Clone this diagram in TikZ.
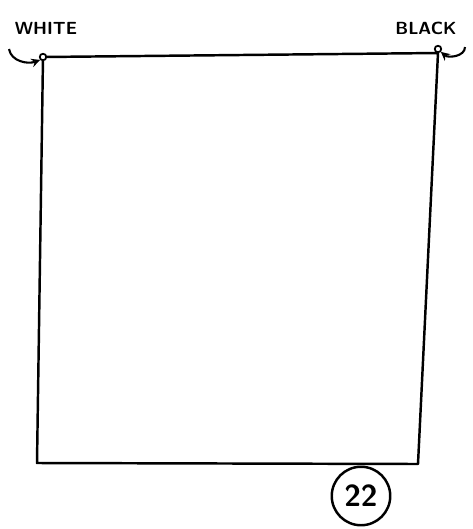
\documentclass[tikz,border=0pt]{standalone}
\usepackage{tikz}
\usetikzlibrary{positioning}
\begin{document}
\begin{tikzpicture}[x=0.02cm, y=-0.02cm]

  \useasboundingbox (0, 0) rectangle (473, 529);

  % corners of the board
  \coordinate (tl) at (43, 57);
  \coordinate (tr) at (438, 53);
  \coordinate (br) at (418, 464);
  \coordinate (bl) at (37, 463);

  \draw[line width=1.4, line join=round] (tl) -- (tr) -- (br) -- (bl) -- cycle;

  \node[circle, draw, fill=white, line width=1, inner sep=0, minimum size=0.13cm] (wstone) at (tl) {};
  \node[circle, draw, fill=white, line width=1, inner sep=0, minimum size=0.13cm] (bstone) at (438, 49) {};

  \node (wlabel) at (46, 28) { \sffamily\bfseries WHITE };
  \node (blabel) at (426, 28) { \sffamily\bfseries BLACK };

  \coordinate (wtail) at (9, 49);
  \coordinate (btail) at (465, 47);
  \draw[->, >=stealth, line width=1.2] (wtail) to[out=-80, in=200] (wstone.south west);
  \draw[->, >=stealth, line width=1.2] (btail) to[out=-90, in=-40] (bstone.south east);

  \node[circle, draw, line width=1.4, inner sep=0, minimum size=1.17cm, font=\sffamily\LARGE\bfseries] (moveno) at (361, 496) { 22 };

\end{tikzpicture}
\end{document}
